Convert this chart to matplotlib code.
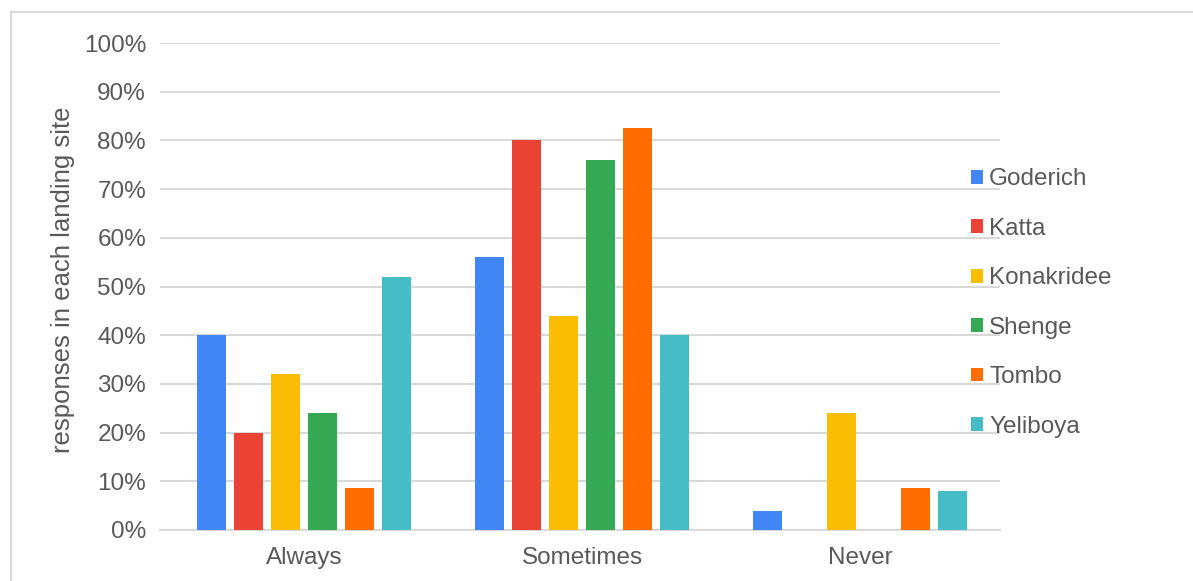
import numpy as np
import matplotlib.pyplot as plt
from matplotlib.lines import Line2D

plt.rcParams['font.family'] = ['Liberation Sans', 'DejaVu Sans']

# responses per landing site (%)
categories = ['Always', 'Sometimes', 'Never']
sites = ['Goderich', 'Katta', 'Konakridee', 'Shenge', 'Tombo', 'Yeliboya']
goderich = [40, 56, 4]
katta = [20, 80, 0]
konakridee = [32, 44, 24]
shenge = [24, 76, 0]
tombo = [8.7, 82.6, 8.7]
yeliboya = [52, 40, 8]
colors = ['#4285F4', '#EA4335', '#FBBC04', '#34A853', '#FF6D01', '#46BDC6']

series = [goderich, katta, konakridee, shenge, tombo, yeliboya]
W, H = 1193, 581
FS = 17.5

fig = plt.figure(figsize=(W / 100, H / 100), dpi=100)
ax = fig.add_axes([160 / W, 1 - 530 / H, 840 / W, 487 / H])

x = np.arange(len(categories))
step = 0.133
width = 0.104
for i, (name, vals) in enumerate(zip(sites, series)):
    ax.bar(x + (i - 2.5) * step, vals, width, color=colors[i], label=name,
           zorder=3)

ax.set_xlim(-0.518, 2.5036)
ax.set_ylim(0, 100)
ax.set_yticks(np.arange(0, 101, 10))
ax.set_yticklabels([f'{v}%' for v in range(0, 101, 10)])
ax.set_xticks(x)
ax.set_xticklabels(categories)
ax.grid(axis='y', color='#d9d9d9', linewidth=1.5, zorder=0)
for s in ['top', 'right', 'left']:
    ax.spines[s].set_visible(False)
ax.spines['bottom'].set_color('#d9d9d9')
ax.spines['bottom'].set_linewidth(1.5)
ax.tick_params(axis='both', length=0, labelsize=FS, labelcolor='#595959')
ax.tick_params(axis='y', pad=10)
ax.tick_params(axis='x', pad=12)
ax.set_ylabel('responses in each landing site', fontsize=18.5, color='#595959')
ax.yaxis.set_label_coords(-0.101, 0.513)

leg = fig.legend(loc='center left', bbox_to_anchor=(971 / W, 1 - 303 / H),
                 bbox_transform=fig.transFigure, frameon=False,
                 fontsize=FS, handlelength=0.5, handleheight=0.5,
                 handletextpad=0.25, labelspacing=1.13, borderpad=0,
                 borderaxespad=0)
for t in leg.get_texts():
    t.set_color('#595959')

# outer frame (left and top only)
fig.add_artist(Line2D([11 / W, 11 / W], [0, 1 - 12 / H],
                      transform=fig.transFigure, color='#d9d9d9', lw=1.5))
fig.add_artist(Line2D([11 / W, 1], [1 - 12 / H, 1 - 12 / H],
                      transform=fig.transFigure, color='#d9d9d9', lw=1.5))

fig.savefig('out.png', dpi=100)
